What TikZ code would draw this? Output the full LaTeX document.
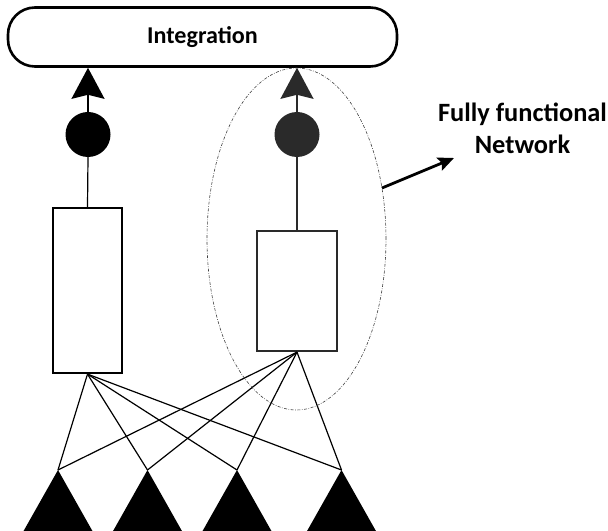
\documentclass[tikz,border=0pt]{standalone}
\usepackage{fontspec}
\setmainfont{Carlito}
\usetikzlibrary{arrows.meta,shapes.geometric}
\definecolor{dk}{HTML}{2A2A2A}
\tikzset{
  box/.style={draw, line width=2.2bp, fill=white, inner sep=0pt},
  dot/.style={circle, fill, minimum size=45bp, inner sep=0pt},
  up/.style={line width=1.6bp, -{Stealth[length=31bp, width=33bp, inset=4bp]}},
  wire/.style={line width=1.2bp},
  label/.style={font=\bfseries\fontsize{26.5}{32}\selectfont, align=center}
}
\begin{document}
\begin{tikzpicture}[x=1bp, y=-1bp]
  \useasboundingbox (0,0) rectangle (608,531);
  \fill[white] (0,0) rectangle (608,531);

  % top integration bar
  \node[box, line width=2.6bp, rounded corners=27bp, minimum width=389bp, minimum height=59bp,
        font=\bfseries\fontsize{24.2}{28}\selectfont] (integ) at (202.5,37) {Integration};

  % two branches: unit boxes and output dots
  \node[box, minimum width=69bp, minimum height=165bp] (r1) at (87.5,290.5) {};
  \node[box, draw=dk, minimum width=80bp, minimum height=120bp] (r2) at (297,291) {};
  \node[dot, fill=black] (c1) at (88,134.5) {};
  \node[dot, fill=dk] (c2) at (297,134.5) {};

  \draw[wire] (r1.north) -- (c1.south);
  \draw[wire, dk] (r2.north) -- (c2.south);
  \draw[up] (c1.north) -- (c1 |- integ.south);
  \draw[up, dk] (c2.north) -- (c2 |- integ.south);

  % input triangles
  \coordinate (a1) at (58,470);
  \coordinate (a2) at (147.5,470);
  \coordinate (a3) at (237,470);
  \coordinate (a4) at (341.5,470);
  \foreach \a in {a1,a2,a3,a4}
    \fill (\a) -- ++(-35,62) -- ++(70,0) -- cycle;

  % full connections from inputs to both boxes
  \foreach \a in {a1,a2,a3,a4} {
    \draw[wire] (r1.south) -- (\a);
    \draw[wire] (r2.south) -- (\a);
  }

  % dashed outline around one complete branch
  \node[ellipse, draw=black!75, line width=0.6bp,
        dash pattern=on 3bp off 1.5bp on 0.7bp off 1.5bp,
        minimum width=179bp, minimum height=342bp, inner sep=0pt] (ell) at (296.5,239) {};

  % label with pointer
  \node[label] (lbl) at (522.5,128) {Fully functional\\Network};
  \coordinate (p0) at (382,188);
  \coordinate (p1) at (454,158);
  \draw[line width=2.8bp, -{Stealth[length=16bp, width=14bp, inset=3bp]}] (p0) -- (p1);
\end{tikzpicture}
\end{document}
